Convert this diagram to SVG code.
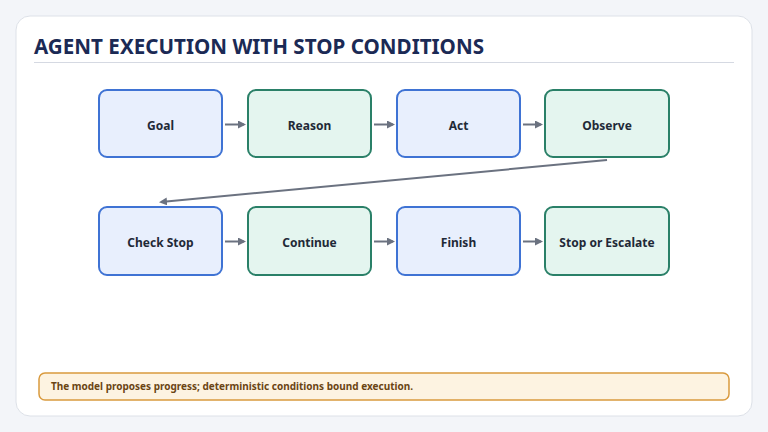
<svg xmlns="http://www.w3.org/2000/svg" width="768" height="432" viewBox="0 0 768 432">
<style>
text{font-family:"Noto Sans","Open Sans","Liberation Sans",sans-serif;font-weight:bold}
.b{fill:#e8effd;stroke:#3f73d4;stroke-width:2}
.g{fill:#e4f5ef;stroke:#2a8068;stroke-width:2}
.l{font-size:12px;fill:#1f2937;text-anchor:middle}
.c{stroke:#6b7280;stroke-width:2;fill:none}
</style>
<defs><marker id="a" markerWidth="8" markerHeight="8" refX="6" refY="4" orient="auto" markerUnits="userSpaceOnUse"><path d="M0,0L8,4L0,8Z" fill="#6b7280"/></marker></defs>
<rect width="768" height="432" fill="#f3f5f9"/>
<rect x="16" y="16" width="736" height="400" rx="14" fill="#fff" stroke="#dde1e8"/>
<text x="34" y="54" font-size="20.6" fill="#1b2a55" textLength="450" lengthAdjust="spacingAndGlyphs">AGENT EXECUTION WITH STOP CONDITIONS</text>
<line x1="34" y1="62.5" x2="734" y2="62.5" stroke="#d5d9e2"/>
<g id="goal"><rect class="b" x="99" y="90" width="123" height="67" rx="8"/><text class="l" x="160.5" y="129.5">Goal</text></g>
<g id="reason"><rect class="g" x="248" y="90" width="123" height="67" rx="8"/><text class="l" x="309.5" y="129.5">Reason</text></g>
<g id="act"><rect class="b" x="397" y="90" width="123" height="67" rx="8"/><text class="l" x="458.5" y="129.5">Act</text></g>
<g id="observe"><rect class="g" x="545" y="90" width="124" height="67" rx="8"/><text class="l" x="607" y="129.5">Observe</text></g>
<g id="check"><rect class="b" x="99" y="207" width="123" height="68" rx="8"/><text class="l" x="160.5" y="246.5">Check Stop</text></g>
<g id="continue"><rect class="g" x="248" y="207" width="123" height="68" rx="8"/><text class="l" x="309.5" y="246.5">Continue</text></g>
<g id="finish"><rect class="b" x="397" y="207" width="123" height="68" rx="8"/><text class="l" x="458.5" y="246.5">Finish</text></g>
<g id="stop"><rect class="g" x="545" y="207" width="124" height="68" rx="8"/><text class="l" x="607" y="246.5">Stop or Escalate</text></g>
<g id="connectors">
<line class="c" x1="225" y1="124.5" x2="244" y2="124.5" marker-end="url(#a)"/>
<line class="c" x1="374" y1="124.5" x2="393" y2="124.5" marker-end="url(#a)"/>
<line class="c" x1="523" y1="124.5" x2="541" y2="124.5" marker-end="url(#a)"/>
<line class="c" x1="607" y1="160" x2="161" y2="202" marker-end="url(#a)"/>
<line class="c" x1="225" y1="241.5" x2="244" y2="241.5" marker-end="url(#a)"/>
<line class="c" x1="374" y1="241.5" x2="393" y2="241.5" marker-end="url(#a)"/>
<line class="c" x1="523" y1="241.5" x2="541" y2="241.5" marker-end="url(#a)"/>
</g>
<g id="note"><rect x="39" y="373" width="690" height="27" rx="6" fill="#fdf3e1" stroke="#d99a3e" stroke-width="1.5"/><text x="51" y="390" font-size="10" fill="#6b4514" textLength="362" lengthAdjust="spacingAndGlyphs">The model proposes progress; deterministic conditions bound execution.</text></g>
</svg>
